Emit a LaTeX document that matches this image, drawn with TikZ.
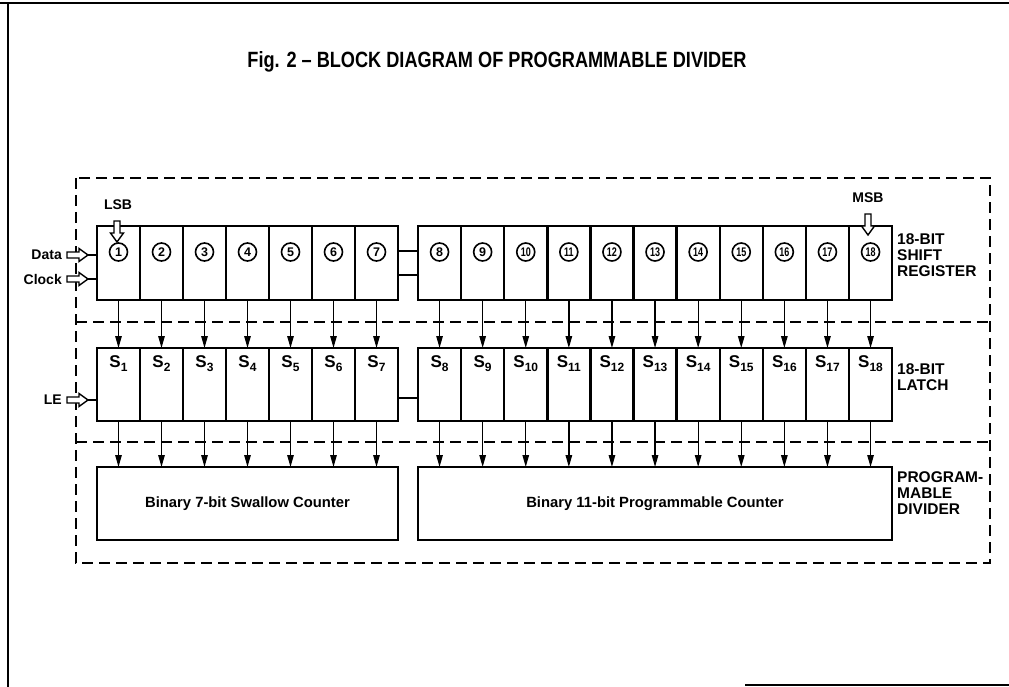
\documentclass[tikz,border=0pt]{standalone}
\usepackage{fontspec}
\setmainfont{Liberation Sans}
\usetikzlibrary{arrows.meta,calc}
\newcommand{\Ssub}[1]{S\raisebox{-4pt}{\fontsize{12}{12}\selectfont #1}}
\tikzset{
  cell/.style={draw, line width=2.4pt, minimum width=43.1pt, minimum height=74pt, inner sep=0pt, outer sep=0pt},
  lcell/.style={cell, minimum height=73pt},
  cnt/.style={draw, line width=2.4pt, inner sep=0pt, outer sep=0pt, font=\bfseries\fontsize{14.8}{16}\selectfont},
  sepline/.style={dash pattern=on 11pt off 6pt, line width=1.5pt},
  conn/.style={line width=1.3pt, -{Triangle[length=12pt,width=6.5pt]}},
  wire/.style={line width=1.2pt},
  lbl/.style={font=\bfseries\fontsize{14}{16}\selectfont, inner sep=0pt},
  circnum/.style={draw, circle, line width=1.6pt, minimum size=18pt, inner sep=0pt, font=\bfseries\fontsize{12.5}{13}\selectfont},
  sname/.style={font=\bfseries\fontsize{17}{17}\selectfont, inner sep=0pt},
  side/.style={font=\bfseries\fontsize{15.5}{16}\selectfont, align=left, anchor=north west, inner sep=0pt},
  harrowstyle/.style={draw, line width=1.4pt, fill=white},
  pics/harrow/.style={code={\draw[harrowstyle] (0,0) -- (-9,6.5) -- (-9,3) -- (-21,3) -- (-21,-3) -- (-9,-3) -- (-9,-6.5) -- cycle;}}
}
\begin{document}
\begin{tikzpicture}[x=1pt,y=1pt]
\useasboundingbox (0,0) rectangle (1009,-687);
% page frame
\draw[line width=2pt] (0,-3) -- (1009,-3);
\draw[line width=1.6pt] (8,-3) -- (8,-687);
\draw[line width=2pt] (745,-685) -- (1009,-685);
% title
\node[inner sep=0pt] (title) at (497,-62) {\resizebox{499pt}{16pt}{\bfseries Fig. 2 – BLOCK DIAGRAM OF PROGRAMMABLE DIVIDER}};
% dashed section frames
\draw[sepline] (76,-178) rectangle (990,-563);
\draw[sepline] (76,-322) -- (990,-322);
\draw[sepline] (76,-442) -- (990,-442);
% shift register cells
\foreach \i in {1,...,7}
  \node[cell] (sr\i) at ({97+43*(\i-0.5)},-263) {};
\foreach \i in {8,...,18}
  \node[cell] (sr\i) at ({418+43.1*(\i-7.5)},-263) {};
\foreach \i in {1,...,9}
  \node[circnum] (c\i) at ($(sr\i.center)+(0,11)$) {\i};
\foreach \i in {10,...,18}
  \node[circnum] (c\i) at ($(sr\i.center)+(0,11)$) {\scalebox{0.72}[1]{\i}};
\draw[wire] ($(sr7.east)+(0,12)$) -- ($(sr8.west)+(0,12)$);
\draw[wire] ($(sr7.east)+(0,-12)$) -- ($(sr8.west)+(0,-12)$);
% latch cells
\foreach \i in {1,...,7}
  \node[lcell] (la\i) at ({97+43*(\i-0.5)},-384.5) {};
\foreach \i in {8,...,18}
  \node[lcell] (la\i) at ({418+43.1*(\i-7.5)},-384.5) {};
\foreach \i in {1,...,18}
  \node[sname] (s\i) at ($(la\i.center)+(0,20.5)$) {\Ssub{\i}};
\draw[wire] ($(la7.east)+(0,-13.5)$) -- ($(la8.west)+(0,-13.5)$);
% counters
\node[cnt, minimum width=301pt, minimum height=73pt] (swallow) at (247.5,-503.5) {Binary 7-bit Swallow Counter};
\node[cnt, minimum width=474pt, minimum height=73pt] (prog) at (655,-503.5) {Binary 11-bit Programmable Counter};
% arrows
\foreach \i in {1,...,18}
  \draw[conn] (sr\i.south) -- (la\i.north);
\foreach \i in {1,...,7}
  \draw[conn] (la\i.south) -- (la\i.south |- swallow.north);
\foreach \i in {8,...,18}
  \draw[conn] (la\i.south) -- (la\i.south |- prog.north);
% inputs
\node[lbl, anchor=east] (data) at (62,-255) {Data};
\node[lbl, anchor=east] (clock) at (62,-279) {Clock};
\node[lbl, anchor=east] (le) at (62,-400) {LE};
\coordinate (dtip) at (88,-255);
\coordinate (ctip) at (88,-279);
\coordinate (ltip) at (88,-400);
\pic at (dtip) {harrow};
\pic at (ctip) {harrow};
\pic at (ltip) {harrow};
\draw[wire] (dtip) -- (dtip -| sr1.west);
\draw[wire] (ctip) -- (ctip -| sr1.west);
\draw[wire] (ltip) -- (ltip -| la1.west);
% LSB / MSB
\node[lbl] (lsb) at (118,-205) {LSB};
\node[lbl] (msb) at (868,-198) {MSB};
\pic[rotate=-90] at (117,-242) {harrow};
\pic[rotate=-90] at (868,-235) {harrow};
% side labels
\node[side] (srlbl) at (897,-233) {18-BIT\\SHIFT\\REGISTER};
\node[side] (lalbl) at (897,-363) {18-BIT\\LATCH};
\node[side] (pdlbl) at (897,-471) {PROGRAM-\\MABLE\\DIVIDER};
\end{tikzpicture}
\end{document}
